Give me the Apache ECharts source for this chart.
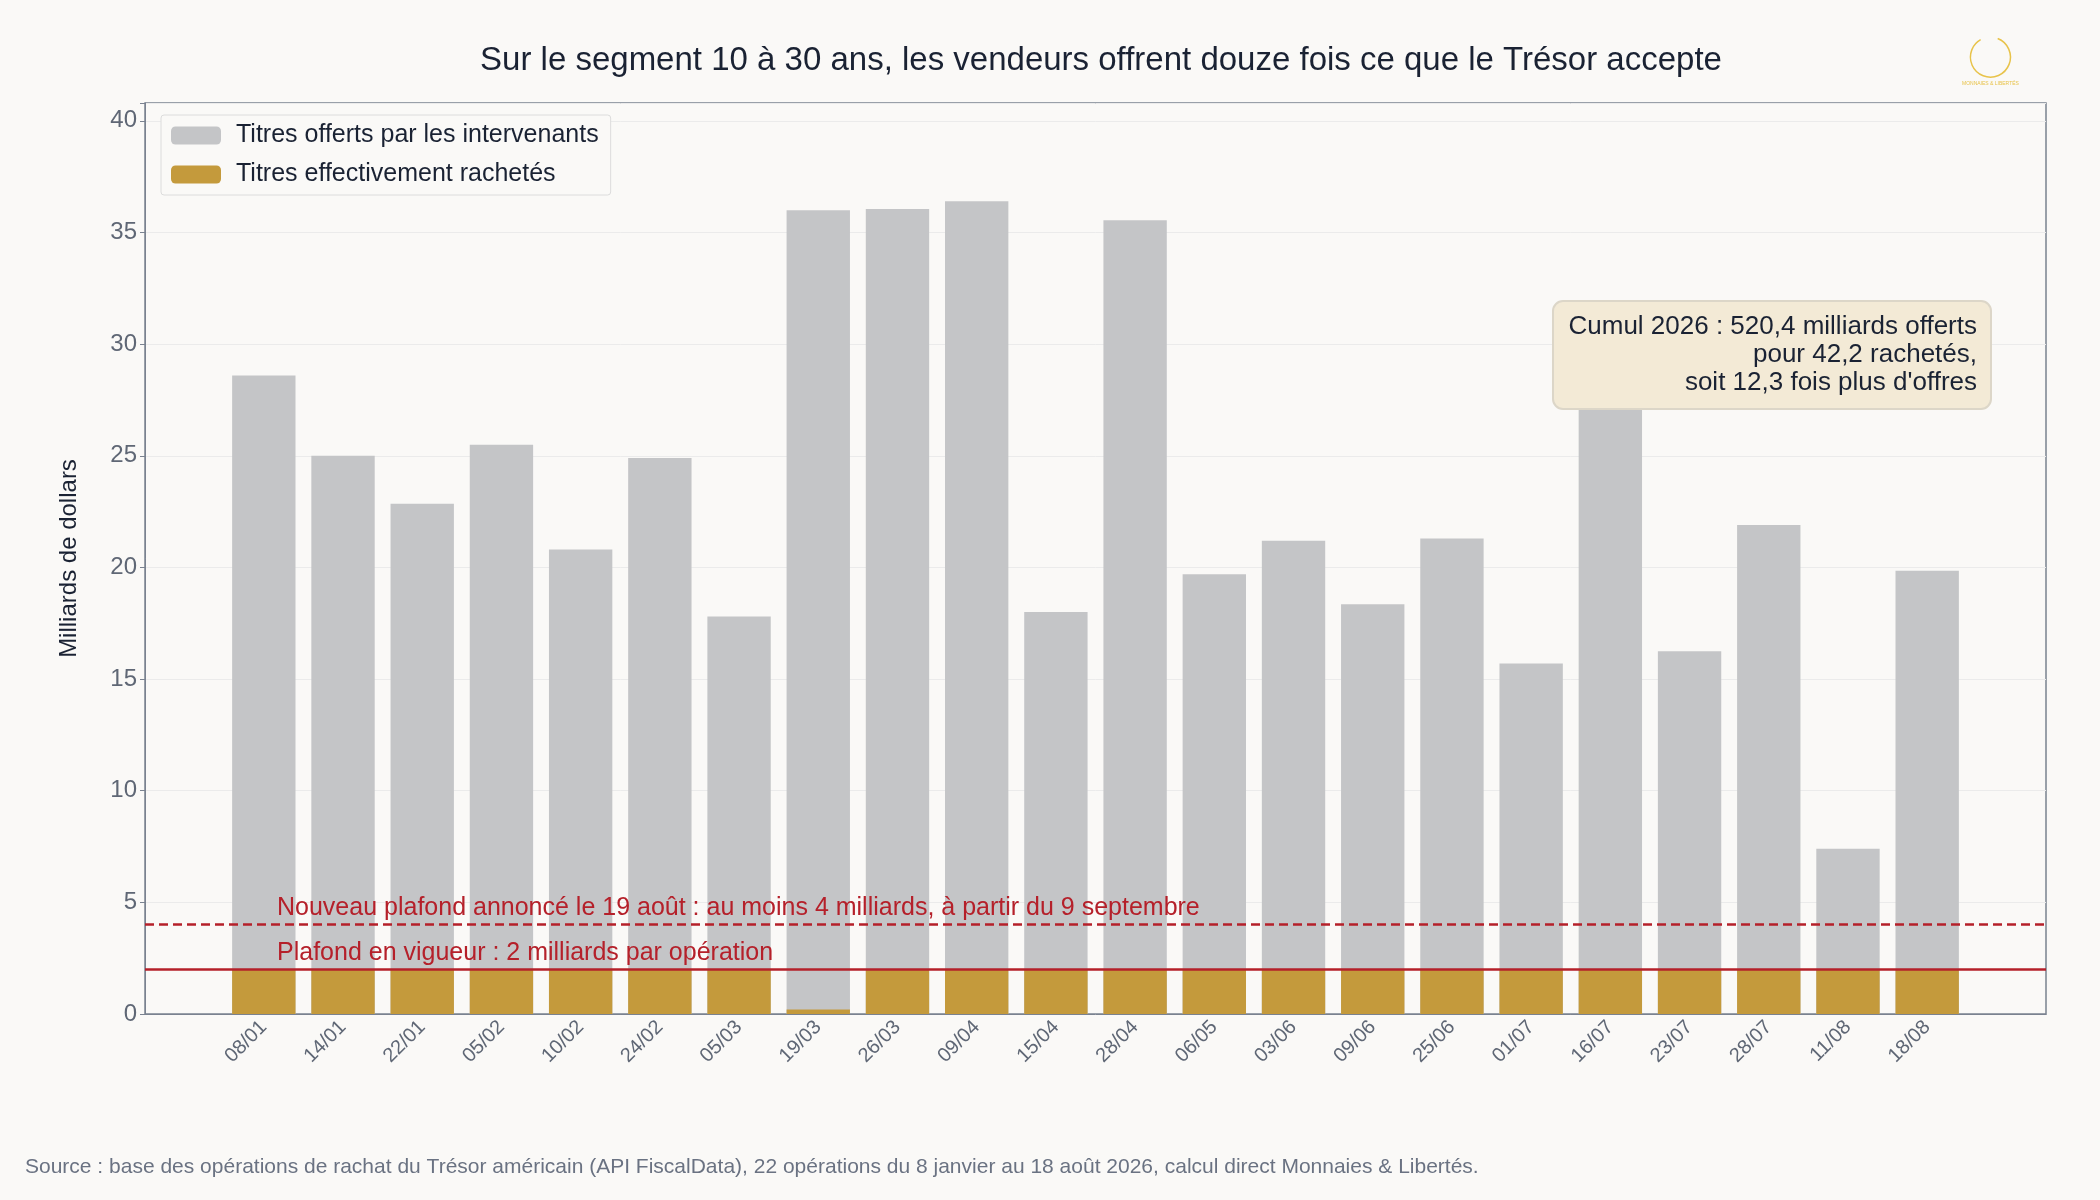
<!DOCTYPE html>
<html><head><meta charset="utf-8">
<script src="https://cdn.jsdelivr.net/npm/echarts@6/dist/echarts.min.js"></script>
<style>html,body{margin:0;background:#faf9f7}#c{width:2100px;height:1200px}</style>
</head><body><div id="c"></div>
<script>
const dates = ['08/01','14/01','22/01','05/02','10/02','24/02','05/03','19/03','26/03','09/04','15/04','28/04','06/05','03/06','09/06','25/06','01/07','16/07','23/07','28/07','11/08','18/08'];
const offered = [28.6,25.0,22.85,25.5,20.8,24.9,17.8,36.0,36.05,36.4,18.0,35.55,19.7,21.2,18.35,21.3,15.7,31.3,16.25,21.9,7.4,19.85];
const bought = [2,2,2,2,2,2,2,0.2,2,2,2,2,2,2,2,2,2,2,2,2,2,2];
const yTicks = [0,5,10,15,20,25,30,35,40];
const capNow = 2, capNew = 4;

const cats = [''].concat(dates, ['']);
const pad = a => [null].concat(a, [null]);
const font = '"Liberation Sans", Arial, sans-serif';
const chart = echarts.init(document.getElementById('c'));
chart.setOption({
  backgroundColor:'#faf9f7',
  textStyle:{fontFamily:font},
  title:{text:'Sur le segment 10 à 30 ans, les vendeurs offrent douze fois ce que le Trésor accepte',left:1096,textAlign:'center',top:39,textStyle:{fontSize:33,fontWeight:'normal',color:'#1a2233',fontFamily:font}},
  legend:{left:161,top:115,orient:'vertical',itemWidth:50,itemHeight:18,itemGap:14,padding:[8,12,8,10],borderColor:'#dcdcdc',borderWidth:1,borderRadius:3,backgroundColor:'#faf9f7',textStyle:{fontSize:25,color:'#1a2233',fontFamily:font,padding:[0,0,0,10]}},
  grid:{left:145,right:54,top:103,bottom:186,show:true,borderColor:'#7a8290',borderWidth:1.5,backgroundColor:'transparent'},
  xAxis:{type:'category',data:cats,
    axisLine:{lineStyle:{color:'#7a8290'}},
    axisTick:{alignWithLabel:true,interval:(i,v)=>v!=='',lineStyle:{color:'#7a8290'},length:7},
    axisLabel:{rotate:45,interval:0,fontSize:20,color:'#5f6775',margin:10,fontFamily:font},
    splitLine:{show:false}},
  yAxis:{type:'value',min:0,max:40.8,interval:5,
    name:'Milliards de dollars',nameLocation:'middle',nameGap:64,nameTextStyle:{fontSize:24,color:'#1a2233',fontFamily:font},
    axisLabel:{fontSize:24,color:'#5f6775',fontFamily:font,formatter:v=>yTicks.includes(v)?String(v):''},
    axisLine:{show:true,lineStyle:{color:'#7a8290'}},axisTick:{show:true,lineStyle:{color:'#7a8290'}},
    splitLine:{lineStyle:{color:'#ebebeb'}}},
  series:[
    {name:'Titres offerts par les intervenants',type:'bar',data:pad(offered),barWidth:'80%',itemStyle:{color:'#c4c5c7'},z:2,
     markLine:{symbol:'none',silent:true,data:[
       {yAxis:capNew,lineStyle:{color:'#b5202a',type:[9,5],width:2.5},label:{show:true,position:'insideStartTop',formatter:'Nouveau plafond annoncé le 19 août : au moins 4 milliards, à partir du 9 septembre',padding:[0,0,0,128],fontSize:25,color:'#b5202a',distance:4,fontFamily:font}},
       {yAxis:capNow,lineStyle:{color:'#b5202a',type:'solid',width:2.5},label:{show:true,position:'insideStartTop',formatter:'Plafond en vigueur : 2 milliards par opération',padding:[0,0,0,128],fontSize:25,color:'#b5202a',distance:4,fontFamily:font}}
     ]}},
    {name:'Titres effectivement rachetés',type:'bar',data:pad(bought),barWidth:'80%',barGap:'-100%',itemStyle:{color:'#c49a3c'},z:3}
  ],
  graphic:[
    {type:'group',left:1552,top:300,z:100,children:[
      {type:'rect',z:100,shape:{x:0,y:0,width:438,height:108,r:10},style:{fill:'#f3ead6',stroke:'#dcd6c8',lineWidth:2}},
      {type:'text',z:101,style:{x:424,y:12,text:"Cumul 2026 : 520,4 milliards offerts\npour 42,2 rachetés,\nsoit 12,3 fois plus d'offres",align:'right',fontSize:26,lineHeight:28,fill:'#1a2233',fontFamily:font}}
    ]},
    {type:'group',left:1962,top:36,children:[
      {type:'arc',shape:{cx:22,cy:22,r:20,startAngle:-1.2,endAngle:4.2},style:{stroke:'#e8c34a',fill:null,lineWidth:1.5}},
      {type:'text',style:{x:22,y:46,text:'MONNAIES & LIBERTÉS',align:'center',fontSize:5,fill:'#e8c34a'}}
    ]},
    {type:'text',left:25,top:1157,style:{text:'Source : base des opérations de rachat du Trésor américain (API FiscalData), 22 opérations du 8 janvier au 18 août 2026, calcul direct Monnaies & Libertés.',fontSize:21,fill:'#6a7282',fontFamily:font}}
  ]
});
</script></body></html>
